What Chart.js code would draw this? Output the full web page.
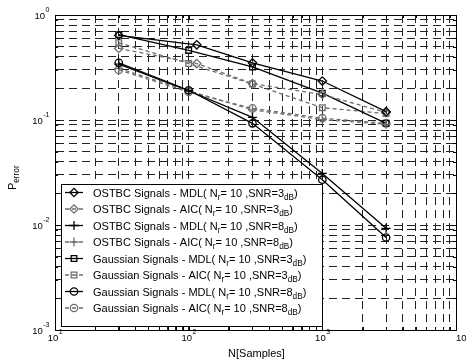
<!DOCTYPE html>
<html>
<head>
<meta charset="utf-8">
<script src="https://cdn.jsdelivr.net/npm/chart.js@4.4.1/dist/chart.umd.min.js"></script>
<style>
  html, body { margin: 0; padding: 0; background: #fff; }
  #perr { display: block; }
</style>
</head>
<body>
<canvas id="perr" width="466" height="363"></canvas>
<script>
// number of samples on the x axis
const samplesN = [30, 100, 300, 1000, 3000];
const samplesOstbc3 = [30, 115, 300, 1000, 3000];

// error probability
const ostbcMdl3 = [0.64, 0.52, 0.35, 0.235, 0.12];
const ostbcAic3 = [0.48, 0.345, 0.222, 0.175, 0.118];
const ostbcMdl8 = [0.34, 0.19, 0.106, 0.031, 0.0093];
const ostbcAic8 = [0.31, 0.19, 0.125, 0.101, 0.091];
const gaussMdl3 = [0.65, 0.46, 0.32, 0.18, 0.093];
const gaussAic3 = [0.545, 0.345, 0.22, 0.131, 0.115];
const gaussMdl8 = [0.35, 0.192, 0.093, 0.027, 0.0076];
const gaussAic8 = [0.3, 0.185, 0.129, 0.104, 0.093];

const seriesLabels = [
  "OSTBC Signals - MDL( N_{r}= 10 ,SNR=3_{dB})",
  "OSTBC Signals - AIC( N_{r}= 10 ,SNR=3_{dB})",
  "OSTBC Signals - MDL( N_{r}= 10 ,SNR=8_{dB})",
  "OSTBC Signals - AIC( N_{r}= 10 ,SNR=8_{dB})",
  "Gaussian Signals - MDL( N_{r}= 10 ,SNR=3_{dB})",
  "Gaussian Signals - AIC( N_{r}= 10 ,SNR=3_{dB})",
  "Gaussian Signals - MDL( N_{r}= 10 ,SNR=8_{dB})",
  "Gaussian Signals - AIC( N_{r}= 10 ,SNR=8_{dB})",
];

// decade exponents for the tick labels
const xDecades = [1, 2, 3, 4];
const yDecades = [0, -1, -2, -3];

const FONT = '"Liberation Sans", Arial, Helvetica, sans-serif';
const BLACK = "#000000";
const GRAY = "#6f6f6f";

const styles = [
  { color: BLACK, dash: [], marker: "rectRot", r: 4.2 },
  { color: GRAY, dash: [4, 3], marker: "rectRot", r: 4.2 },
  { color: BLACK, dash: [], marker: "cross", r: 4.5 },
  { color: GRAY, dash: [4, 3], marker: "cross", r: 4.5 },
  { color: BLACK, dash: [], marker: "rect", r: 4 },
  { color: GRAY, dash: [4, 3], marker: "rect", r: 4 },
  { color: BLACK, dash: [], marker: "circle", r: 3.7 },
  { color: GRAY, dash: [4, 3], marker: "circle", r: 3.7 },
];

const xs = [samplesOstbc3, samplesOstbc3, samplesN, samplesN, samplesN, samplesN, samplesN, samplesN];
const ys = [ostbcMdl3, ostbcAic3, ostbcMdl8, ostbcAic8, gaussMdl3, gaussAic3, gaussMdl8, gaussAic8];

const datasets = ys.map((vals, i) => ({
  label: seriesLabels[i],
  data: vals.map((v, j) => ({ x: xs[i][j], y: v })),
  borderColor: styles[i].color,
  borderWidth: 1.3,
  borderDash: styles[i].dash,
  pointStyle: styles[i].marker,
  pointRadius: styles[i].r,
  pointBorderColor: styles[i].color,
  pointBackgroundColor: "rgba(0,0,0,0)",
  pointBorderWidth: 1.3,
  fill: false,
  tension: 0,
}));

function decadeTicks(e0, e1) {
  const t = [];
  for (let e = e0; e < e1; e++) {
    for (let m = 1; m <= 9; m++) {
      t.push({ value: Number((m * Math.pow(10, e)).toPrecision(12)) });
    }
  }
  t.push({ value: Math.pow(10, e1) });
  return t;
}

function isDecade(v) {
  const l = Math.log10(v);
  return Math.abs(l - Math.round(l)) < 1e-9;
}

// text with _{...} subscripts
function drawRich(ctx, str, x, y, size) {
  const parts = [];
  const re = /_\{([^}]*)\}/g;
  let last = 0, m;
  while ((m = re.exec(str))) {
    if (m.index > last) parts.push({ t: str.slice(last, m.index), sub: false });
    parts.push({ t: m[1], sub: true });
    last = re.lastIndex;
  }
  if (last < str.length) parts.push({ t: str.slice(last), sub: false });
  let cx = x;
  parts.forEach((p) => {
    ctx.font = (p.sub ? size * 0.75 : size) + "px " + FONT;
    ctx.fillText(p.t, cx, p.sub ? y + size * 0.3 : y);
    cx += ctx.measureText(p.t).width;
  });
  return cx - x;
}

function powWidth(ctx, e) {
  ctx.font = "9.5px " + FONT;
  const wb = ctx.measureText("10").width;
  ctx.font = "7px " + FONT;
  return [wb, ctx.measureText(String(e)).width];
}

function drawPow(ctx, e, left, base) {
  const [wb] = powWidth(ctx, e);
  ctx.font = "9.5px " + FONT;
  ctx.fillText("10", left, base);
  ctx.font = "7px " + FONT;
  ctx.fillText(String(e), left + wb + 0.5, base - 6.5);
}

const matlabAxes = {
  id: "matlabAxes",
  afterDraw(chart) {
    const ctx = chart.ctx;
    const a = chart.chartArea;
    const sx = chart.scales.x;
    const sy = chart.scales.y;
    ctx.save();
    ctx.strokeStyle = BLACK;
    ctx.fillStyle = BLACK;
    ctx.lineWidth = 1;
    ctx.setLineDash([]);

    // inner ticks on all four sides
    ctx.beginPath();
    sx.ticks.forEach((t) => {
      const px = Math.round(sx.getPixelForValue(t.value)) + 0.5;
      const len = isDecade(t.value) ? 5 : 3;
      ctx.moveTo(px, a.bottom); ctx.lineTo(px, a.bottom - len);
      ctx.moveTo(px, a.top); ctx.lineTo(px, a.top + len);
    });
    sy.ticks.forEach((t) => {
      const py = Math.round(sy.getPixelForValue(t.value)) + 0.5;
      const len = isDecade(t.value) ? 5 : 3;
      ctx.moveTo(a.left, py); ctx.lineTo(a.left + len, py);
      ctx.moveTo(a.right, py); ctx.lineTo(a.right - len, py);
    });
    ctx.stroke();

    // box
    ctx.strokeRect(Math.round(a.left) + 0.5, Math.round(a.top) + 0.5,
      Math.round(a.right - a.left), Math.round(a.bottom - a.top));

    // tick labels
    ctx.textAlign = "left";
    ctx.textBaseline = "alphabetic";
    xDecades.forEach((e, i) => {
      const px = sx.getPixelForValue(Math.pow(10, e));
      const [wb, ws] = powWidth(ctx, e);
      const left = i === xDecades.length - 1 ? px : px - (wb + ws) / 2;
      drawPow(ctx, e, left, a.bottom + 10.5);
    });
    yDecades.forEach((e) => {
      const py = sy.getPixelForValue(Math.pow(10, e));
      const [wb, ws] = powWidth(ctx, e);
      drawPow(ctx, e, a.left - 6 - wb - ws, py + 3.5);
    });

    // axis titles
    ctx.font = "11px " + FONT;
    ctx.textAlign = "center";
    ctx.fillText("N[Samples]", (a.left + a.right) / 2 + 1, 357);
    ctx.textAlign = "left";
    ctx.save();
    ctx.translate(16, 178);
    ctx.rotate(-Math.PI / 2);
    ctx.font = "11px " + FONT;
    const wp = ctx.measureText("P").width;
    ctx.font = "8px " + FONT;
    const we = ctx.measureText("error").width;
    drawRich(ctx, "P_{error}", -(wp + we) / 2, 0, 11);
    ctx.restore();

    // legend
    const lg = { left: 61, top: 184, right: 322, bottom: 326 };
    ctx.fillStyle = "#ffffff";
    ctx.fillRect(lg.left, lg.top, lg.right - lg.left, lg.bottom - lg.top);
    ctx.strokeStyle = BLACK;
    ctx.strokeRect(lg.left + 0.5, lg.top + 0.5, lg.right - lg.left, lg.bottom - lg.top);
    chart.data.datasets.forEach((ds, i) => {
      const st = styles[i];
      const y = 192.5 + i * 16.5;
      ctx.strokeStyle = st.color;
      ctx.lineWidth = 1.3;
      ctx.setLineDash(st.dash.length ? [4, 3] : []);
      ctx.beginPath();
      ctx.moveTo(65, y);
      ctx.lineTo(83, y);
      ctx.stroke();
      ctx.setLineDash([]);
      ctx.fillStyle = "rgba(0,0,0,0)";
      Chart.helpers.drawPoint(ctx, { pointStyle: st.marker, radius: st.r, borderWidth: 1.3, rotation: 0 }, 74, y);
      ctx.fillStyle = BLACK;
      drawRich(ctx, ds.label, 93, y + 4, 11);
    });
    ctx.restore();
  },
};

new Chart(document.getElementById("perr"), {
  type: "line",
  data: { datasets },
  options: {
    responsive: false,
    animation: false,
    devicePixelRatio: 1,
    events: [],
    layout: { padding: { left: 0, top: 15, right: 10, bottom: 0 } },
    plugins: { legend: { display: false }, tooltip: { enabled: false } },
    scales: {
      x: {
        type: "logarithmic",
        min: 10,
        max: 10000,
        afterBuildTicks: (s) => { s.ticks = decadeTicks(1, 4); },
        afterFit: (s) => { s.height = 33; },
        ticks: { display: false },
        grid: { color: "#222222", lineWidth: 1, drawTicks: false },
        border: { display: true, color: BLACK, width: 1, dash: [8, 5] },
      },
      y: {
        type: "logarithmic",
        min: 0.001,
        max: 1,
        afterBuildTicks: (s) => { s.ticks = decadeTicks(-3, 0); },
        afterFit: (s) => { s.width = 55; },
        ticks: { display: false },
        grid: { color: "#222222", lineWidth: 1, drawTicks: false },
        border: { display: true, color: BLACK, width: 1, dash: [8, 5] },
      },
    },
  },
  plugins: [matlabAxes],
});
</script>
</body>
</html>
